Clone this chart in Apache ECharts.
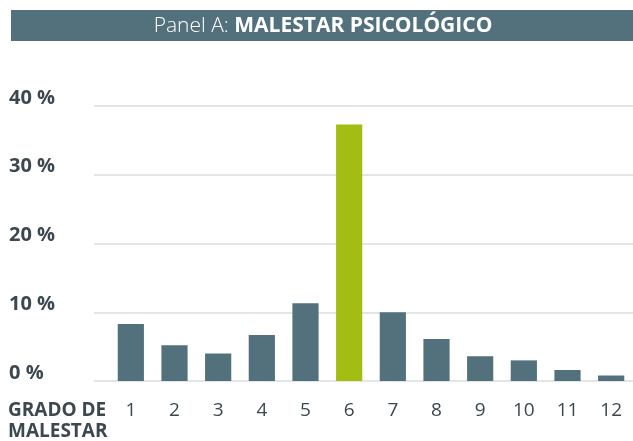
<!DOCTYPE html>
<html>
<head>
<meta charset="utf-8">
<script src="https://cdn.jsdelivr.net/npm/echarts@6/dist/echarts.min.js"></script>
<style>
  html, body { margin: 0; padding: 0; background: #fff; }
  #chart { width: 633px; height: 441px; }
</style>
</head>
<body>
<div id="chart"></div>
<script>
const categories = ['1', '2', '3', '4', '5', '6', '7', '8', '9', '10', '11', '12']
const shares = [8.3, 5.2, 4.0, 6.7, 11.3, 37.3, 10.0, 6.1, 3.6, 3.0, 1.6, 0.8]
const highlighted = '6'
const yTicks = [0, 10, 20, 30, 40]

const FONT = '"Open Sans", "Noto Sans", sans-serif'
const SLATE = '#52717d'
const GREEN = '#a3bd12'
const INK = '#3b484f'

const chart = echarts.init(document.getElementById('chart'))

chart.setOption({
  backgroundColor: '#ffffff',
  animation: false,
  textStyle: { fontFamily: FONT },
  graphic: [
    {
      type: 'rect',
      shape: { x: 11, y: 10, width: 622, height: 31 },
      style: { fill: SLATE }
    },
    {
      type: 'text',
      x: 323,
      y: 26,
      style: {
        text: '{a|Panel A: }{b|MALESTAR PSICOLÓGICO}',
        align: 'center',
        verticalAlign: 'middle',
        rich: {
          a: { fontFamily: FONT, fontSize: 21, fontWeight: 300, fill: '#ffffff', color: '#ffffff' },
          b: { fontFamily: FONT, fontSize: 21, fontWeight: 'bold', fill: '#ffffff', color: '#ffffff' }
        }
      }
    },
    {
      type: 'text',
      x: 8,
      y: 400,
      style: {
        text: 'GRADO DE\nMALESTAR',
        fontFamily: FONT,
        fontSize: 19,
        fontWeight: 'bold',
        lineHeight: 21,
        fill: INK
      }
    }
  ],
  grid: [
    { left: 94, right: 0, top: 106, bottom: 60 },
    { left: 109, right: 0, top: 106, bottom: 60 }
  ],
  xAxis: [
    { gridIndex: 0, type: 'value', show: false, min: 0, max: 1 },
    {
      gridIndex: 1,
      type: 'category',
      data: categories,
      axisLine: { show: false },
      axisTick: { show: false },
      axisLabel: { color: INK, fontSize: 19, fontFamily: FONT, margin: 20, lineHeight: 20 }
    }
  ],
  yAxis: [
    {
      gridIndex: 0,
      type: 'value',
      min: yTicks[0],
      max: yTicks[yTicks.length - 1],
      interval: 10,
      axisLine: { show: false },
      axisTick: { show: false },
      splitLine: { lineStyle: { color: '#e2e6e9', width: 2 } },
      axisLabel: {
        color: INK,
        fontSize: 20,
        fontWeight: 'bold',
        fontFamily: FONT,
        align: 'left',
        verticalAlign: 'bottom',
        lineHeight: 16,
        margin: 85,
        formatter: v => v + ' %'
      }
    },
    {
      gridIndex: 1,
      type: 'value',
      min: yTicks[0],
      max: yTicks[yTicks.length - 1],
      interval: 10,
      show: false,
      splitLine: { show: false }
    }
  ],
  series: [
    {
      type: 'bar',
      xAxisIndex: 1,
      yAxisIndex: 1,
      data: shares,
      barCategoryGap: '40%',
      itemStyle: {
        color: p => (p.name === highlighted ? GREEN : SLATE)
      }
    }
  ]
})
</script>
</body>
</html>
